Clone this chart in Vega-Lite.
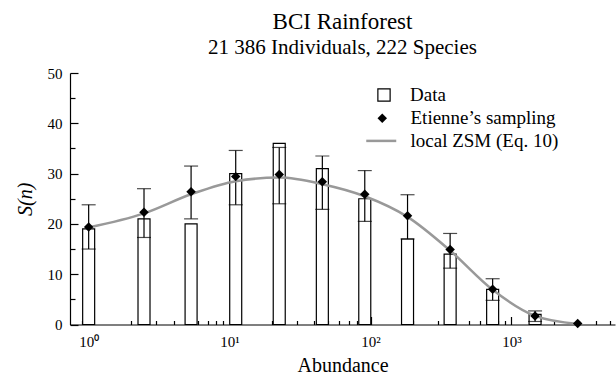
{
  "$schema": "https://vega.github.io/schema/vega-lite/v6.json",
  "width": 545,
  "height": 251.5,
  "autosize": {"type": "none"},
  "padding": {"left": 70, "top": 73, "right": 1, "bottom": 56.5},
  "background": "white",
  "config": {
    "view": {"stroke": null},
    "font": "Liberation Serif",
    "axis": {"grid": false, "domainColor": "black", "tickColor": "black", "labelColor": "black", "titleColor": "black", "labelFont": "Liberation Serif", "titleFont": "Liberation Serif", "titleFontWeight": "normal", "domainWidth": 1.2, "tickWidth": 1.2},
    "legend": {"labelFont": "Liberation Serif", "labelFontSize": 19, "labelColor": "black", "padding": 0, "title": null}
  },
  "title": {
    "text": "BCI Rainforest",
    "subtitle": "21 386 Individuals, 222 Species",
    "font": "Liberation Serif",
    "subtitleFont": "Liberation Serif",
    "fontSize": 23,
    "subtitleFontSize": 21,
    "fontWeight": "normal",
    "color": "black",
    "subtitleColor": "black",
    "anchor": "middle",
    "offset": 8,
    "subtitlePadding": 3
  },
  "datasets": {
    "bars": [
      {"n": 1, "S": 19, "series": "Data"},
      {"n": 2.47, "S": 21, "series": "Data"},
      {"n": 5.33, "S": 20, "series": "Data"},
      {"n": 11.05, "S": 30, "series": "Data"},
      {"n": 22.5, "S": 36, "series": "Data"},
      {"n": 45.5, "S": 31, "series": "Data"},
      {"n": 91, "S": 25, "series": "Data"},
      {"n": 183, "S": 17, "series": "Data"},
      {"n": 367, "S": 14, "series": "Data"},
      {"n": 735, "S": 7, "series": "Data"},
      {"n": 1470, "S": 2, "series": "Data"}
    ],
    "pts": [
      {"n": 1, "S": 19.4, "lo": 15.0, "hi": 23.8, "series": "Etienne’s sampling"},
      {"n": 2.47, "S": 22.3, "lo": 17.3, "hi": 27.0, "series": "Etienne’s sampling"},
      {"n": 5.33, "S": 26.4, "lo": 21.0, "hi": 31.5, "series": "Etienne’s sampling"},
      {"n": 11.05, "S": 29.4, "lo": 23.8, "hi": 34.6, "series": "Etienne’s sampling"},
      {"n": 22.5, "S": 29.8, "lo": 24.0, "hi": 35.2, "series": "Etienne’s sampling"},
      {"n": 45.5, "S": 28.4, "lo": 22.9, "hi": 33.5, "series": "Etienne’s sampling"},
      {"n": 91, "S": 25.9, "lo": 20.5, "hi": 30.6, "series": "Etienne’s sampling"},
      {"n": 183, "S": 21.6, "lo": 17.0, "hi": 25.8, "series": "Etienne’s sampling"},
      {"n": 367, "S": 14.9, "lo": 11.2, "hi": 18.1, "series": "Etienne’s sampling"},
      {"n": 735, "S": 7.0, "lo": 4.8, "hi": 9.1, "series": "Etienne’s sampling"},
      {"n": 1470, "S": 1.7, "lo": 0.6, "hi": 2.7, "series": "Etienne’s sampling"},
      {"n": 2950, "S": 0.2, "lo": null, "hi": null, "series": "Etienne’s sampling"}
    ],
    "zsm": [
      {"n": 1, "S": 19.3, "series": "local ZSM (Eq. 10)"},
      {"n": 2.47, "S": 22.1, "series": "local ZSM (Eq. 10)"},
      {"n": 5.33, "S": 25.9, "series": "local ZSM (Eq. 10)"},
      {"n": 11.05, "S": 28.5, "series": "local ZSM (Eq. 10)"},
      {"n": 22.5, "S": 29.2, "series": "local ZSM (Eq. 10)"},
      {"n": 45.5, "S": 27.9, "series": "local ZSM (Eq. 10)"},
      {"n": 91, "S": 25.5, "series": "local ZSM (Eq. 10)"},
      {"n": 183, "S": 21.4, "series": "local ZSM (Eq. 10)"},
      {"n": 367, "S": 14.7, "series": "local ZSM (Eq. 10)"},
      {"n": 735, "S": 6.9, "series": "local ZSM (Eq. 10)"},
      {"n": 1470, "S": 1.7, "series": "local ZSM (Eq. 10)"},
      {"n": 2950, "S": 0.1, "series": "local ZSM (Eq. 10)"}
    ]
  },
  "resolve": {"axis": {"x": "independent", "y": "independent"}},
  "layer": [
    {
      "data": {"name": "bars"},
      "mark": {"type": "bar", "size": 12, "stroke": "black", "strokeWidth": 1.2},
      "encoding": {
        "x": {"field": "n", "type": "quantitative", "scale": {"type": "log", "domain": [0.8, 5000], "nice": false},
          "axis": {"orient": "bottom", "values": [1, 10, 100, 1000], "ticks": false, "labelPadding": 10, "labelFontSize": 15,
            "labelExpr": "datum.value == 1 ? '10⁰' : datum.value == 10 ? '10¹' : datum.value == 100 ? '10²' : '10³'",
            "title": "Abundance", "titleFontSize": 20, "titlePadding": 6, "labelFlush": false}},
        "y": {"field": "S", "type": "quantitative", "scale": {"domain": [0, 50], "nice": false},
          "axis": {"orient": "left", "values": [0, 10, 20, 30, 40, 50], "ticks": false, "labelPadding": 8, "labelFontSize": 15,
            "title": "S(n)", "titleFontSize": 20, "titleFontStyle": "italic", "titlePadding": 12}},
        "fill": {"field": "series", "type": "nominal", "scale": {"domain": ["Data"], "range": ["white"]},
          "legend": {"orient": "none", "legendX": 304.5, "legendY": 12.5, "symbolType": "square", "symbolSize": 150,
            "symbolStrokeColor": "black", "symbolStrokeWidth": 1.2, "symbolFillColor": "white", "labelOffset": 16.5}}
      }
    },
    {
      "data": {"name": "pts"},
      "transform": [{"filter": "datum.lo != null"}],
      "mark": {"type": "rule", "color": "black", "strokeWidth": 1.2},
      "encoding": {
        "x": {"field": "n", "type": "quantitative", "scale": {"type": "log", "domain": [0.8, 5000], "nice": false},
          "axis": {"orient": "bottom", "values": [1, 10, 100, 1000], "labels": false, "domain": false, "tickSize": -8, "title": null}},
        "y": {"field": "lo", "type": "quantitative", "scale": {"domain": [0, 50], "nice": false},
          "axis": {"orient": "left", "values": [0, 10, 20, 30, 40, 50], "labels": false, "domain": false, "tickSize": -8, "title": null}},
        "y2": {"field": "hi"}
      }
    },
    {
      "data": {"name": "pts"},
      "transform": [{"filter": "datum.lo != null"}],
      "mark": {"type": "tick", "orient": "horizontal", "color": "black", "size": 14, "thickness": 1.2},
      "encoding": {
        "x": {"field": "n", "type": "quantitative", "scale": {"type": "log", "domain": [0.8, 5000], "nice": false},
          "axis": {"orient": "bottom", "values": [0.9, 2, 3, 4, 5, 6, 7, 8, 9, 20, 30, 40, 50, 60, 70, 80, 90, 200, 300, 400, 500, 600, 700, 800, 900, 2000, 3000, 4000, 5000], "labels": false, "domain": false, "tickSize": -4, "title": null}},
        "y": {"field": "lo", "type": "quantitative", "scale": {"domain": [0, 50], "nice": false},
          "axis": {"orient": "left", "values": [5, 15, 25, 35, 45], "labels": false, "domain": false, "tickSize": -5, "title": null}}
      }
    },
    {
      "data": {"name": "pts"},
      "transform": [{"filter": "datum.hi != null"}],
      "mark": {"type": "tick", "orient": "horizontal", "color": "black", "size": 14, "thickness": 1.2},
      "encoding": {
        "x": {"field": "n", "type": "quantitative", "scale": {"type": "log", "domain": [0.8, 5000], "nice": false}, "axis": null},
        "y": {"field": "hi", "type": "quantitative", "scale": {"domain": [0, 50], "nice": false}, "axis": null}
      }
    },
    {
      "data": {"name": "zsm"},
      "mark": {"type": "line", "strokeWidth": 2.5, "interpolate": "monotone"},
      "encoding": {
        "x": {"field": "n", "type": "quantitative", "scale": {"type": "log", "domain": [0.8, 5000], "nice": false}, "axis": null},
        "y": {"field": "S", "type": "quantitative", "scale": {"domain": [0, 50], "nice": false}, "axis": null},
        "stroke": {"field": "series", "type": "nominal", "scale": {"domain": ["local ZSM (Eq. 10)"], "range": ["#999999"]},
          "legend": {"orient": "none", "legendX": 294.75, "legendY": 51.4, "symbolType": "stroke", "symbolSize": 900,
            "symbolStrokeWidth": 2.5, "labelOffset": 12.75}}
      }
    },
    {
      "data": {"name": "pts"},
      "mark": {"type": "point", "filled": true, "color": "black", "size": 90, "opacity": 1},
      "encoding": {
        "x": {"field": "n", "type": "quantitative", "scale": {"type": "log", "domain": [0.8, 5000], "nice": false}, "axis": null},
        "y": {"field": "S", "type": "quantitative", "scale": {"domain": [0, 50], "nice": false}, "axis": null},
        "shape": {"field": "series", "type": "nominal",
          "scale": {"domain": ["Etienne’s sampling"], "range": ["diamond"]},
          "legend": {"orient": "none", "legendX": 302.75, "legendY": 35.75, "symbolSize": 90, "symbolFillColor": "black",
            "symbolStrokeColor": "black", "symbolOpacity": 1, "labelOffset": 18.75}}
      }
    }
  ]
}
